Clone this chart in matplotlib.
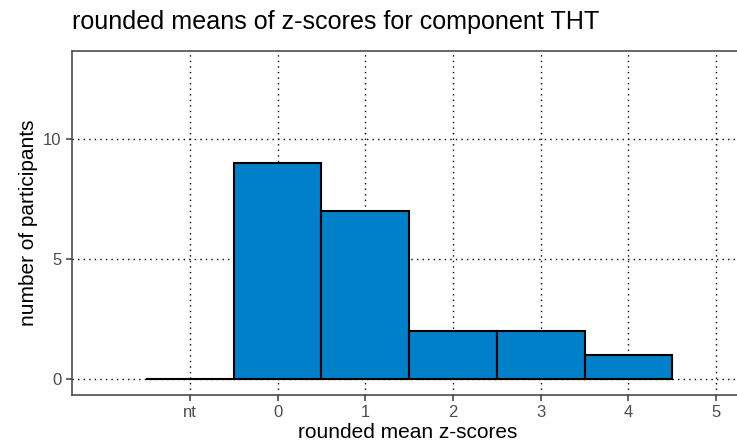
import matplotlib
matplotlib.use("Agg")
import matplotlib.pyplot as plt
import numpy as np

categories = ["nt", "0", "1", "2", "3", "4", "5"]
positions = [-1, 0, 1, 2, 3, 4, 5]
bar_pos = [-1, 0, 1, 2, 3, 4]
counts = [0, 9, 7, 2, 2, 1]
y_ticks = [0, 5, 10]

plt.rcParams["font.family"] = ["Liberation Sans", "DejaVu Sans"]

fig = plt.figure(figsize=(7.37, 4.45), dpi=100)
# panel runs slightly past the right edge of the image, as in the reference
ax = fig.add_axes([0.0977, 0.1124, 0.912, 0.7726])

ax.bar(bar_pos, counts, width=1.0, color="#0080c8", edgecolor="black",
       linewidth=1.5, zorder=3)

ax.set_xlim(-2.345, 5.32)
ax.set_ylim(-0.65, 13.65)
ax.set_xticks(positions)
ax.set_xticklabels(categories)
ax.set_yticks(y_ticks)
ax.grid(True, color="black", linestyle=(0, (1, 3)), linewidth=1.0, zorder=0)
ax.tick_params(colors="#4d4d4d", labelsize=12, length=4, width=1.2)
for s in ax.spines.values():
    s.set_color("#4d4d4d")
    s.set_linewidth(1.2)

ax.set_xlabel("rounded mean z-scores", fontsize=15, labelpad=2)
ax.set_ylabel("number of participants", fontsize=15, labelpad=4)
fig.text(0.0977, 0.935, "rounded means of z-scores for component THT",
         fontsize=18.1, ha="left", va="baseline")

fig.savefig("out.png", dpi=100)
